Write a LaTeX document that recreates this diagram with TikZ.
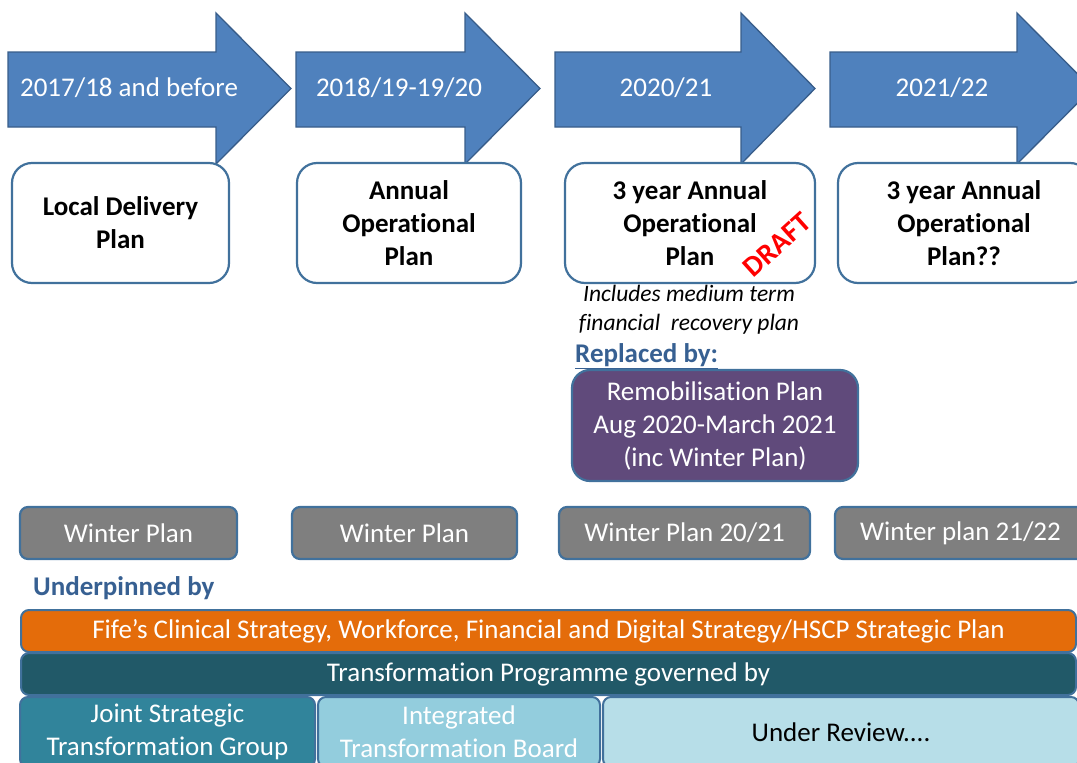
\documentclass[tikz,border=0pt]{standalone}
\usepackage{fontspec}
\setmainfont[Ligatures=NoCommon]{Carlito}
\definecolor{arrowfill}{HTML}{4F81BD}
\definecolor{arrowline}{HTML}{385D8A}
\definecolor{boxline}{HTML}{41719C}
\definecolor{wintergray}{HTML}{7F7F7F}
\definecolor{stratorange}{HTML}{E46C0A}
\definecolor{darkteal}{HTML}{215968}
\definecolor{midteal}{HTML}{31849B}
\definecolor{lightteal}{HTML}{93CDDD}
\definecolor{paleteal}{HTML}{B7DEE8}
\definecolor{remobpurple}{HTML}{604A7B}
\definecolor{headblue}{HTML}{376092}
\newcommand{\bigtext}{\fontsize{27}{33}\selectfont}
\begin{document}
\begin{tikzpicture}[x=1pt,y=-1pt,
  yeararrow/.style={fill=arrowfill,draw=arrowline,line width=1.3pt,line join=miter},
  yearlabel/.style={text=white,font=\bigtext,inner sep=0pt},
  planbox/.style={draw=boxline,line width=2.2pt,fill=white,rounded corners=20pt,
    align=center,font=\bfseries\bigtext,inner sep=0pt},
  winterbox/.style={draw=boxline,line width=2.2pt,fill=wintergray,rounded corners=8pt,
    text=white,font=\bigtext,inner sep=0pt,minimum height=52pt},
  bar/.style={draw=boxline,line width=2pt,rounded corners=8pt,font=\bigtext,
    align=center,inner sep=0pt},
  heading/.style={text=headblue,font=\bfseries\bigtext,inner sep=0pt,anchor=west}]
\useasboundingbox (0,0) rectangle (1077,763);
\clip (0,0) rectangle (1077,763);

% timeline arrows: body left, head base, tip
\foreach \l/\b/\t in {8/216/291, 296/465/540, 555/741/815, 830/1017/1092}{
  \draw[yeararrow] (\l,52) -- (\b,52) -- (\b,13) -- (\t,88.5) -- (\b,164)
    -- (\b,127) -- (\l,127) -- cycle;
}
\node[yearlabel] (y1) at (129,88) {2017/18 and before};
\node[yearlabel] (y2) at (399,88) {2018/19-19/20};
\node[yearlabel] (y3) at (666,88) {2020/21};
\node[yearlabel] (y4) at (942,88) {2021/22};

% plans for each year
\node[planbox,minimum width=217pt,minimum height=120pt] (p1) at (120.5,223) {Local Delivery\\Plan};
\node[planbox,minimum width=224pt,minimum height=120pt] (p2) at (409,223) {Annual\\Operational\\Plan};
\node[planbox,minimum width=250pt,minimum height=120pt] (p3) at (690,223) {3 year Annual\\Operational\\Plan};
\node[planbox,minimum width=252pt,minimum height=120pt] (p4) at (964,223) {3 year Annual\\Operational\\Plan??};
\node[rotate=42,text=red,font=\bfseries\fontsize{29}{33}\selectfont,inner sep=0pt] (draft) at (777,245) {DRAFT};

\node[font=\itshape\fontsize{23.5}{29}\selectfont,align=center,inner sep=0pt] (note) at (689,310)
  {Includes medium term\\financial\ \ recovery plan};
\node[heading] (repl) at (575,356) {\underline{Replaced by:}};
\node[draw=boxline,line width=2.2pt,fill=remobpurple,rounded corners=18pt,text=white,
  font=\bigtext,align=center,inner sep=0pt,minimum width=286pt,minimum height=111pt]
  (remob) at (715,425.5) {Remobilisation Plan\\Aug 2020-March 2021\\(inc Winter Plan)};

% winter plans
\node[winterbox,minimum width=217pt] (w1) at (128.5,533) {Winter Plan};
\node[winterbox,minimum width=225pt] (w2) at (404.5,533) {Winter Plan};
\node[winterbox,minimum width=251pt] (w3) at (684.5,533) {Winter Plan 20/21};
\node[winterbox,minimum width=251pt] (w4) at (960.5,533) {Winter plan 21/22};

% strategies underneath
\node[heading] (under) at (33,588) {Underpinned by};
\node[bar,fill=stratorange,text=white,minimum width=1055pt,minimum height=42pt] (strat) at (548.5,631)
  {Fife’s Clinical Strategy, Workforce, Financial and Digital Strategy/HSCP Strategic Plan};
\node[bar,fill=darkteal,text=white,minimum width=1055pt,minimum height=42pt] (prog) at (548.5,674)
  {Transformation Programme governed by};
\node[bar,fill=midteal,text=white,minimum width=295pt,minimum height=70pt] (jstg) at (167.5,732)
  {Joint Strategic\\Transformation Group};
\node[bar,fill=lightteal,text=white,minimum width=282pt,minimum height=70pt] (itb) at (459,732)
  {Integrated\\Transformation Board};
\node[bar,fill=paleteal,text=black,minimum width=476pt,minimum height=70pt] (review) at (841,732)
  {Under Review....};
\end{tikzpicture}
\end{document}
